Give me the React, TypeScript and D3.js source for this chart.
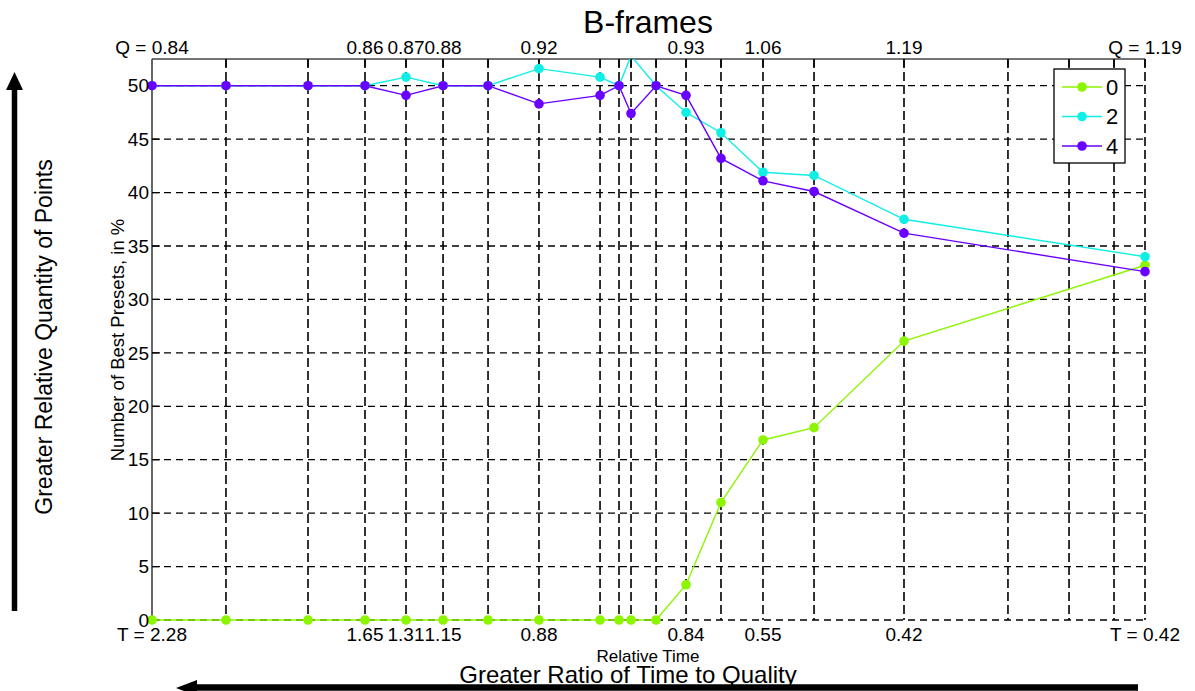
import React from "react";
import * as d3 from "d3";

// Relative position of every measured preset along the time axis (0 = slowest, 100 = fastest)
const positions = [0, 7.45, 15.71, 21.45, 25.58, 29.31, 33.84, 38.97, 45.12, 47.03, 48.24, 50.76, 53.78, 57.3, 61.53, 66.67, 75.73, 100];
// Additional grid positions without measurements
const extraGridPositions = [86.2, 92.35, 96.88];

// Share of best presets (%) for each B-frames setting
const bframes0 = [0, 0, 0, 0, 0, 0, 0, 0, 0, 0, 0, 0, 3.3, 11.0, 16.85, 18.0, 26.1, 33.2];
const bframes2 = [50, 50, 50, 50, 50.8, 50, 50, 51.6, 50.8, 50, 52.8, 50, 47.5, 45.6, 41.9, 41.6, 37.5, 34.0];
const bframes4 = [50, 50, 50, 50, 49.1, 50, 50, 48.3, 49.1, 50, 47.4, 50, 49.1, 43.2, 41.1, 40.1, 36.2, 32.6];

const seriesNames = ["0", "2", "4"];
const seriesColors = ["#8cf500", "#10efe6", "#6a00ff"];

// Quality (top) and time (bottom) labels, aligned with positions
const qualityLabels = ["Q = 0.84", "", "", "0.86", "0.87", "0.88", "", "0.92", "", "", "", "", "0.93", "", "1.06", "", "1.19", "Q = 1.19"];
const timeLabels = ["T = 2.28", "", "", "1.65", "1.31", "1.15", "", "0.88", "", "", "", "", "0.84", "", "0.55", "", "0.42", "T = 0.42"];

const yTicks = [0, 5, 10, 15, 20, 25, 30, 35, 40, 45, 50];

const W = 1195;
const H = 691;
const plot = { left: 152, right: 1145, top: 59, bottom: 620 };
const FONT = "'Liberation Sans', Arial, Helvetica, sans-serif";

export default function App() {
  const x = d3.scaleLinear().domain([0, 100]).range([plot.left, plot.right]);
  const y = d3.scaleLinear().domain([0, 52.5]).range([plot.bottom, plot.top]);

  const allSeries = [bframes0, bframes2, bframes4];
  const line = d3
    .line<number>()
    .x((_, i) => x(positions[i]))
    .y((d) => y(d));

  const gridX = [...positions.slice(1), ...extraGridPositions];

  const legend = { x: 1054, y: 69, w: 71, h: 94, rowStart: 87, rowStep: 29.5 };

  return (
    <svg
      width={W}
      height={H}
      style={{ position: "absolute", left: 0, top: 0, background: "#fff" }}
      fontFamily={FONT}
    >
      <defs>
        {/* clip lines at the top of the axes, leave room below so the zero line stays whole */}
        <clipPath id="plot-clip">
          <rect x={plot.left - 4} y={plot.top} width={plot.right - plot.left + 8} height={plot.bottom - plot.top + 4} />
        </clipPath>
      </defs>

      {/* horizontal grid */}
      {yTicks.map((t) => (
        <line
          key={"hg" + t}
          x1={plot.left}
          x2={plot.right}
          y1={y(t)}
          y2={y(t)}
          stroke="#000"
          strokeWidth={1.3}
          strokeDasharray="7,5"
        />
      ))}
      {/* vertical grid */}
      {gridX.map((p) => (
        <line
          key={"vg" + p}
          x1={x(p)}
          x2={x(p)}
          y1={plot.top}
          y2={plot.bottom}
          stroke="#000"
          strokeWidth={1.6}
          strokeDasharray="9,4"
        />
      ))}

      {/* axis lines and ticks */}
      <line x1={plot.left} x2={plot.left} y1={plot.top} y2={plot.bottom} stroke="#000" strokeWidth={1.2} />
      <line x1={plot.left} x2={plot.right} y1={plot.top} y2={plot.top} stroke="#444" strokeWidth={1.4} />
      {gridX.map((p) => (
        <line key={"tt" + p} x1={x(p)} x2={x(p)} y1={plot.top} y2={plot.top + 8} stroke="#000" strokeWidth={1.4} />
      ))}
      {yTicks.map((t) => (
        <line key={"yt" + t} x1={plot.left} x2={plot.left + 8} y1={y(t)} y2={y(t)} stroke="#000" strokeWidth={1.2} />
      ))}

      {/* series */}
      <g clipPath="url(#plot-clip)">
        {allSeries.map((s, si) => (
          <path key={"l" + si} d={line(s) || ""} fill="none" stroke={seriesColors[si]} strokeWidth={1.4} />
        ))}
      </g>
      {allSeries.map((s, si) => (
        <g key={"m" + si} fill={seriesColors[si]}>
          {s.map((v, i) =>
            v <= 52.5 ? <circle key={i} cx={x(positions[i])} cy={y(v)} r={4.8} /> : null
          )}
        </g>
      ))}

      {/* y tick labels */}
      {yTicks.map((t) => (
        <text key={"yl" + t} x={plot.left - 3} y={y(t)} dy="0.35em" textAnchor="end" fontSize={19} fill="#000">
          {t}
        </text>
      ))}

      {/* quality labels on top, time labels at bottom */}
      {qualityLabels.map((lab, i) =>
        lab ? (
          <text key={"q" + i} x={x(positions[i])} y={54} textAnchor="middle" fontSize={19} fill="#000">
            {lab}
          </text>
        ) : null
      )}
      {timeLabels.map((lab, i) =>
        lab ? (
          <text key={"t" + i} x={x(positions[i])} y={641} textAnchor="middle" fontSize={19} fill="#000">
            {lab}
          </text>
        ) : null
      )}

      {/* titles */}
      <text x={648} y={33} textAnchor="middle" fontSize={32} fill="#000">
        B-frames
      </text>
      <text x={648} y={662} textAnchor="middle" fontSize={17} fill="#000">
        Relative Time
      </text>
      <text x={628} y={683} textAnchor="middle" fontSize={24} fill="#000">
        Greater Ratio of Time to Quality
      </text>
      <text transform="translate(124,340) rotate(-90)" textAnchor="middle" fontSize={18.5} fill="#000">
        Number of Best Presets, in %
      </text>
      <text transform="translate(52,337) rotate(-90)" textAnchor="middle" fontSize={23} fill="#000">
        Greater Relative Quantity of Points
      </text>

      {/* direction arrows */}
      <line x1={14.5} x2={14.5} y1={611} y2={88} stroke="#000" strokeWidth={5.5} />
      <path d="M14.5,72 L23,90 L6,90 Z" fill="#000" />
      <line x1={1138} x2={192} y1={687.5} y2={687.5} stroke="#000" strokeWidth={6.5} />
      <path d="M176,688 L197,680 L197,696 Z" fill="#000" />

      {/* legend */}
      <rect x={legend.x} y={legend.y} width={legend.w} height={legend.h} fill="#fff" stroke="#000" strokeWidth={1.3} />
      {seriesNames.map((name, i) => {
        const ry = legend.rowStart + i * legend.rowStep;
        return (
          <g key={"lg" + name}>
            <line x1={legend.x + 8} x2={legend.x + 48} y1={ry} y2={ry} stroke={seriesColors[i]} strokeWidth={1.3} />
            <circle cx={legend.x + 28} cy={ry} r={4.8} fill={seriesColors[i]} />
            <text x={legend.x + 52} y={ry} dy="0.36em" fontSize={22} fill="#000">
              {name}
            </text>
          </g>
        );
      })}
    </svg>
  );
}
